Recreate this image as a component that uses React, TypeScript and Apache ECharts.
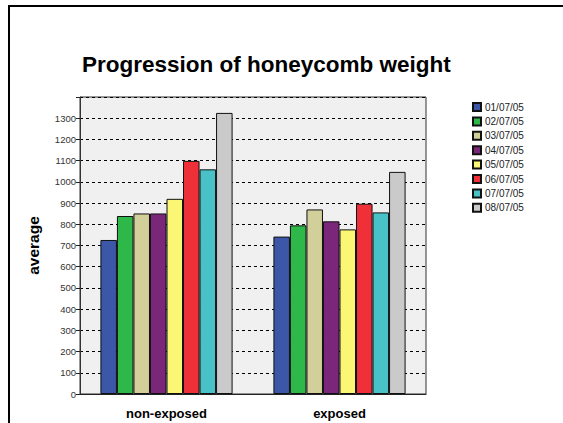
import React, { useEffect, useRef } from "react";
import * as echarts from "echarts";

const categories = ["non-exposed", "exposed"];
const seriesNames = ["01/07/05", "02/07/05", "03/07/05", "04/07/05", "05/07/05", "06/07/05", "07/07/05", "08/07/05"];
const nonExposed = [726, 839, 851, 851, 920, 1099, 1059, 1325];
const exposed = [742, 795, 870, 814, 776, 897, 856, 1047];
const colors = ["#3c56a8", "#2fb84a", "#d3cf9a", "#7b2779", "#fbf774", "#f03039", "#48c2c6", "#cacaca"];

const FONT = "Arial, 'Liberation Sans', sans-serif";

export default function App() {
  const ref = useRef<HTMLDivElement>(null);
  useEffect(() => {
    if (!ref.current) return;
    const chart = echarts.init(ref.current, null, { renderer: "svg" });
    chart.setOption({
      animation: false,
      backgroundColor: "#ffffff",
      title: {
        text: "Progression of honeycomb weight",
        left: 77,
        top: 48,
        textStyle: { fontFamily: FONT, fontSize: 22.5, fontWeight: "bold", color: "#000" },
      },
      legend: {
        orient: "vertical",
        left: 467,
        top: 97,
        itemWidth: 8,
        itemHeight: 8,
        itemGap: 4.4,
        icon: "rect",
        textStyle: { fontFamily: FONT, fontSize: 10, color: "#222", padding: [0, 0, 0, -1] },
        data: seriesNames,
      },
      grid: {
        left: 80,
        right: 137,
        top: 97,
        bottom: 29,
        show: true,
        backgroundColor: "#f0f0f0",
        borderColor: "#333",
        borderWidth: 1,
        containLabel: false,
      },
      xAxis: {
        type: "category",
        data: categories,
        axisLine: { lineStyle: { color: "#222", width: 1 } },
        axisTick: { alignWithLabel: true, length: 10, lineStyle: { color: "#000" } },
        axisLabel: { fontFamily: FONT, fontSize: 13, fontWeight: "bold", color: "#000", margin: 13 },
      },
      yAxis: {
        type: "value",
        min: 0,
        max: 1400,
        interval: 100,
        name: "average",
        nameLocation: "middle",
        nameGap: 39,
        nameTextStyle: { fontFamily: FONT, fontSize: 15.5, fontWeight: "bold", color: "#000" },
        axisLine: { show: true, lineStyle: { color: "#333" } },
        axisTick: { show: true, length: 4, lineStyle: { color: "#222" } },
        axisLabel: {
          fontFamily: FONT,
          fontSize: 9.5,
          color: "#333",
          margin: 4,
          formatter: (v: number) => (v === 1400 ? "" : String(v)),
        },
        splitLine: { show: true, lineStyle: { color: "#000", type: [3, 3], width: 1 } },
      },
      series: seriesNames.map((name, i) => ({
        name,
        type: "bar",
        data: [nonExposed[i], exposed[i]],
        barGap: "0%",
        barCategoryGap: "23.6%",
        itemStyle: { color: colors[i], borderColor: "#111", borderWidth: 1 },
      })),
      graphic: [
        {
          type: "line",
          shape: { x1: 9, y1: 6, x2: 563, y2: 6 },
          style: { stroke: "#000", lineWidth: 2 },
          z: 100,
        },
        {
          type: "line",
          shape: { x1: 9, y1: 5, x2: 9, y2: 423 },
          style: { stroke: "#000", lineWidth: 2 },
          z: 100,
        },
      ],
    });
    return () => chart.dispose();
  }, []);
  return (
    <div
      ref={ref}
      style={{ position: "fixed", left: 0, top: 0, width: 563, height: 423 }}
    />
  );
}
